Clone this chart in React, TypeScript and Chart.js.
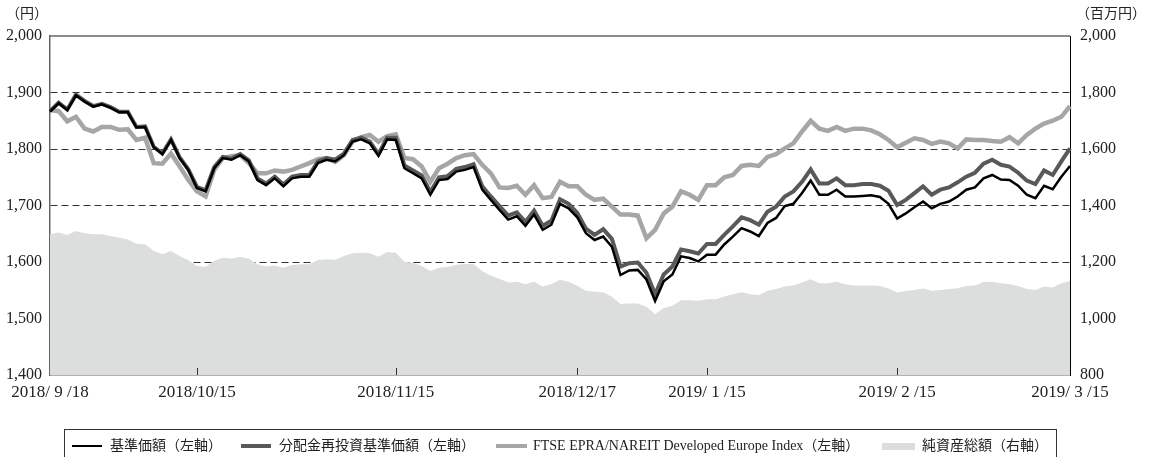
import React, { useEffect, useRef } from "react";
import { Chart, registerables } from "chart.js";

Chart.register(...registerables);

const dates = [
  "2018/09/18","2018/09/19","2018/09/20","2018/09/21","2018/09/25","2018/09/26","2018/09/27","2018/09/28",
  "2018/10/01","2018/10/02","2018/10/03","2018/10/04","2018/10/05","2018/10/09","2018/10/10","2018/10/11","2018/10/12","2018/10/15",
  "2018/10/16","2018/10/17","2018/10/18","2018/10/19","2018/10/22","2018/10/23","2018/10/24","2018/10/25","2018/10/26","2018/10/29","2018/10/30","2018/10/31",
  "2018/11/01","2018/11/02","2018/11/05","2018/11/06","2018/11/07","2018/11/08","2018/11/09","2018/11/12","2018/11/13","2018/11/14","2018/11/15",
  "2018/11/16","2018/11/19","2018/11/20","2018/11/21","2018/11/22","2018/11/26","2018/11/27","2018/11/28","2018/11/29","2018/11/30",
  "2018/12/03","2018/12/04","2018/12/05","2018/12/06","2018/12/07","2018/12/10","2018/12/11","2018/12/12","2018/12/13","2018/12/14","2018/12/17",
  "2018/12/18","2018/12/19","2018/12/20","2018/12/21","2018/12/25","2018/12/26","2018/12/27","2018/12/28",
  "2019/01/04","2019/01/07","2019/01/08","2019/01/09","2019/01/10","2019/01/11","2019/01/15",
  "2019/01/16","2019/01/17","2019/01/18","2019/01/21","2019/01/22","2019/01/23","2019/01/24","2019/01/25","2019/01/28","2019/01/29","2019/01/30","2019/01/31",
  "2019/02/01","2019/02/04","2019/02/05","2019/02/06","2019/02/07","2019/02/08","2019/02/12","2019/02/13","2019/02/14","2019/02/15",
  "2019/02/18","2019/02/19","2019/02/20","2019/02/21","2019/02/22","2019/02/25","2019/02/26","2019/02/27","2019/02/28",
  "2019/03/01","2019/03/04","2019/03/05","2019/03/06","2019/03/07","2019/03/08","2019/03/11","2019/03/12","2019/03/13","2019/03/14","2019/03/15",
];

const tickDates = ["2018/09/18", "2018/10/15", "2018/11/15", "2018/12/17", "2019/01/15", "2019/02/15", "2019/03/15"];
const tickTexts = ["2018/ 9 /18", "2018/10/15", "2018/11/15", "2018/12/17", "2019/ 1 /15", "2019/ 2 /15", "2019/ 3 /15"];

// 基準価額（左軸）
const navValues = [
  1866,1881,1869,1895,1884,1875,1879,1873,1865,1865,1838,1839,1803,1791,1816,1784,1763,1731,
  1725,1766,1784,1781,1789,1778,1745,1736,1748,1734,1748,1751,
  1751,1775,1781,1778,1789,1813,1817,1810,1788,1817,1816,
  1766,1757,1748,1719,1745,1747,1760,1763,1768,1728,
  1710,1692,1675,1681,1664,1684,1657,1666,1703,1695,1679,
  1651,1639,1645,1627,1577,1585,1586,1569,
  1531,1566,1578,1610,1607,1601,1613,
  1613,1631,1645,1660,1654,1646,1669,1678,1699,1703,1722,1744,
  1719,1719,1728,1716,1716,1717,1718,1715,1703,1677,
  1686,1697,1707,1695,1703,1707,1716,1728,1732,
  1748,1754,1746,1745,1735,1719,1713,1735,1729,1751,1770,
];

// 分配金再投資基準価額（左軸）
const reinvestedNav = [
  1867,1882,1870,1896,1885,1876,1880,1874,1866,1866,1839,1840,1804,1792,1817,1785,1764,1733,
  1727,1768,1786,1783,1791,1780,1748,1739,1751,1737,1751,1754,
  1754,1778,1784,1781,1792,1816,1820,1813,1791,1820,1820,
  1771,1762,1753,1724,1750,1752,1765,1768,1773,1734,
  1716,1699,1682,1688,1671,1691,1664,1673,1711,1703,1687,
  1659,1648,1658,1641,1592,1598,1599,1581,
  1543,1578,1592,1622,1619,1615,1632,
  1632,1648,1663,1679,1674,1666,1689,1698,1716,1725,1742,1764,
  1739,1739,1748,1736,1736,1738,1738,1735,1726,1701,
  1710,1722,1734,1719,1728,1732,1741,1751,1758,
  1774,1781,1772,1769,1758,1744,1738,1762,1754,1778,1801,
];

// FTSE EPRA/NAREIT Developed Europe Index（左軸）
const indexValues = [
  1869,1867,1849,1857,1836,1831,1839,1839,1834,1835,1816,1820,1775,1774,1792,1769,1745,1725,
  1716,1763,1784,1787,1789,1775,1757,1757,1762,1760,1763,1769,
  1775,1782,1784,1777,1789,1813,1821,1825,1813,1823,1826,
  1784,1782,1769,1742,1766,1774,1784,1789,1791,1772,
  1757,1732,1731,1735,1719,1736,1713,1715,1742,1734,1734,
  1719,1710,1712,1698,1684,1684,1682,1642,
  1657,1686,1698,1725,1719,1710,1736,
  1736,1750,1754,1770,1772,1770,1786,1791,1801,1810,1831,1850,
  1836,1832,1839,1832,1836,1836,1833,1826,1816,1803,
  1811,1819,1816,1809,1813,1810,1801,1817,1816,
  1816,1814,1813,1821,1810,1825,1836,1845,1850,1857,1876,
];

// 純資産総額（右軸、百万円）
const netAssets = [
  1298,1304,1296,1310,1302,1298,1298,1292,1286,1280,1265,1263,1239,1227,1239,1221,1206,1186,
  1183,1204,1215,1212,1218,1212,1192,1184,1188,1180,1189,1192,
  1192,1207,1210,1208,1221,1231,1233,1231,1219,1235,1233,
  1201,1197,1186,1168,1180,1182,1190,1193,1193,1168,
  1151,1141,1127,1130,1121,1130,1113,1121,1137,1130,1116,
  1098,1095,1093,1077,1051,1053,1053,1042,
  1015,1037,1045,1065,1065,1063,1068,
  1068,1078,1086,1093,1086,1082,1098,1104,1113,1117,1127,1139,
  1125,1125,1130,1121,1117,1117,1117,1115,1106,1092,
  1097,1101,1106,1098,1101,1104,1107,1115,1117,
  1129,1130,1125,1121,1115,1104,1101,1113,1110,1125,1133,
];

const seriesNames = [
  "基準価額（左軸）",
  "分配金再投資基準価額（左軸）",
  "FTSE EPRA/NAREIT Developed Europe Index（左軸）",
  "純資産総額（右軸）",
];

const FONT = "'Liberation Serif', 'DejaVu Serif', 'Noto Sans CJK JP', serif";
const C_BLACK = "#000000";
const C_DARK = "#595959";
const C_LIGHT = "#a6a6a6";
const C_AREA = "#dcdddd";

const framePlugin = {
  id: "frame",
  afterDraw(chart: any) {
    const { ctx, chartArea } = chart;
    const { left, right, top, bottom } = chartArea;
    ctx.save();
    // top border
    ctx.strokeStyle = "#666";
    ctx.lineWidth = 1.5;
    ctx.beginPath();
    ctx.moveTo(left, top);
    ctx.lineTo(right, top);
    ctx.stroke();
    // inward x ticks
    const xs = chart.scales.x;
    ctx.strokeStyle = "#333";
    ctx.lineWidth = 1;
    tickDates.forEach((d, k) => {
      if (k === 0 || k === tickDates.length - 1) return;
      const idx = dates.indexOf(d);
      const x = Math.round(xs.getPixelForValue(idx)) + 0.5;
      ctx.beginPath();
      ctx.moveTo(x, bottom);
      ctx.lineTo(x, bottom - 7);
      ctx.stroke();
    });
    // unit labels
    ctx.fillStyle = "#222";
    ctx.font = `14px ${FONT}`;
    ctx.textBaseline = "middle";
    ctx.textAlign = "left";
    ctx.fillText("（円）", 6, 14);
    ctx.fillText("（百万円）", 1076, 14);
    ctx.restore();
  },
};

export default function App() {
  const ref = useRef<HTMLCanvasElement | null>(null);

  useEffect(() => {
    if (!ref.current) return;
    const chart = new Chart(ref.current, {
      type: "line",
      data: {
        labels: dates,
        datasets: [
          {
            label: seriesNames[0],
            data: navValues,
            borderColor: C_BLACK,
            borderWidth: 2.5,
            pointRadius: 0,
            tension: 0,
            yAxisID: "y",
          },
          {
            label: seriesNames[1],
            data: reinvestedNav,
            borderColor: C_DARK,
            borderWidth: 4,
            pointRadius: 0,
            tension: 0,
            yAxisID: "y",
          },
          {
            label: seriesNames[2],
            data: indexValues,
            borderColor: C_LIGHT,
            borderWidth: 4.5,
            pointRadius: 0,
            tension: 0,
            yAxisID: "y",
          },
          {
            label: seriesNames[3],
            data: netAssets,
            borderColor: "rgba(0,0,0,0)",
            borderWidth: 0,
            backgroundColor: C_AREA,
            fill: "start",
            pointRadius: 0,
            tension: 0,
            yAxisID: "y1",
          },
        ],
      },
      options: {
        responsive: false,
        maintainAspectRatio: false,
        animation: false,
        layout: { padding: { top: 36, left: 0, right: 0, bottom: 0 } },
        plugins: { legend: { display: false }, tooltip: { enabled: false } },
        scales: {
          x: {
            type: "category",
            offset: false,
            grid: { display: false, drawTicks: false },
            border: { display: true, color: "#666", width: 1.5 },
            ticks: {
              autoSkip: false,
              maxRotation: 0,
              minRotation: 0,
              padding: 7,
              color: "#222",
              font: { family: FONT, size: 17 },
              callback: (_v: any, idx: number) => {
                const k = tickDates.indexOf(dates[idx]);
                return k >= 0 ? tickTexts[k] : "";
              },
            },
            afterFit: (s: any) => {
              s.height = 82;
            },
          },
          y: {
            position: "left",
            min: 1400,
            max: 2000,
            ticks: {
              stepSize: 100,
              padding: 8,
              color: "#222",
              font: { family: FONT, size: 16 },
              callback: (v: any) => Number(v).toLocaleString("en-US"),
            },
            grid: {
              drawTicks: false,
              lineWidth: 1,
              color: (c: any) =>
                c.tick && (c.tick.value === 1400 || c.tick.value === 2000) ? "rgba(0,0,0,0)" : "#333",
            },
            border: { display: true, color: "#666", width: 1.5, dash: [7, 4] },
            afterFit: (s: any) => {
              s.width = 50;
            },
          },
          y1: {
            position: "right",
            min: 800,
            max: 2000,
            ticks: {
              stepSize: 200,
              padding: 10,
              color: "#222",
              font: { family: FONT, size: 16 },
              callback: (v: any) => Number(v).toLocaleString("en-US"),
            },
            grid: { display: false, drawTicks: false },
            border: { display: true, color: "#000", width: 1 },
            afterFit: (s: any) => {
              s.width = 82;
            },
          },
        },
      },
      plugins: [framePlugin],
    });
    return () => chart.destroy();
  }, []);

  const textStyle: React.CSSProperties = {
    position: "absolute",
    top: 437,
    fontFamily: FONT,
    fontSize: 14,
    lineHeight: "18px",
    color: "#222",
    whiteSpace: "nowrap",
  };
  const swatch = (left: number, width: number, height: number, color: string): React.CSSProperties => ({
    position: "absolute",
    left,
    top: 446 - height / 2,
    width,
    height,
    background: color,
  });

  return (
    <div
      style={{
        position: "fixed",
        left: 0,
        top: 0,
        width: 1152,
        height: 457,
        overflow: "hidden",
        background: "#fff",
      }}
    >
      <canvas ref={ref} width={1152} height={457} style={{ display: "block", width: 1152, height: 457 }} />
      <div
        style={{
          position: "absolute",
          left: 64,
          top: 429,
          width: 993,
          height: 60,
          border: "1px solid #333",
          boxSizing: "border-box",
        }}
      />
      <div style={swatch(72, 30, 2, C_BLACK)} />
      <div style={{ ...textStyle, left: 110 }}>{seriesNames[0]}</div>
      <div style={swatch(241, 30, 4, C_DARK)} />
      <div style={{ ...textStyle, left: 279 }}>{seriesNames[1]}</div>
      <div style={swatch(496, 31, 4, C_LIGHT)} />
      <div style={{ ...textStyle, left: 533 }}>{seriesNames[2]}</div>
      <div style={swatch(882, 33, 7, C_AREA)} />
      <div style={{ ...textStyle, left: 922 }}>{seriesNames[3]}</div>
    </div>
  );
}
